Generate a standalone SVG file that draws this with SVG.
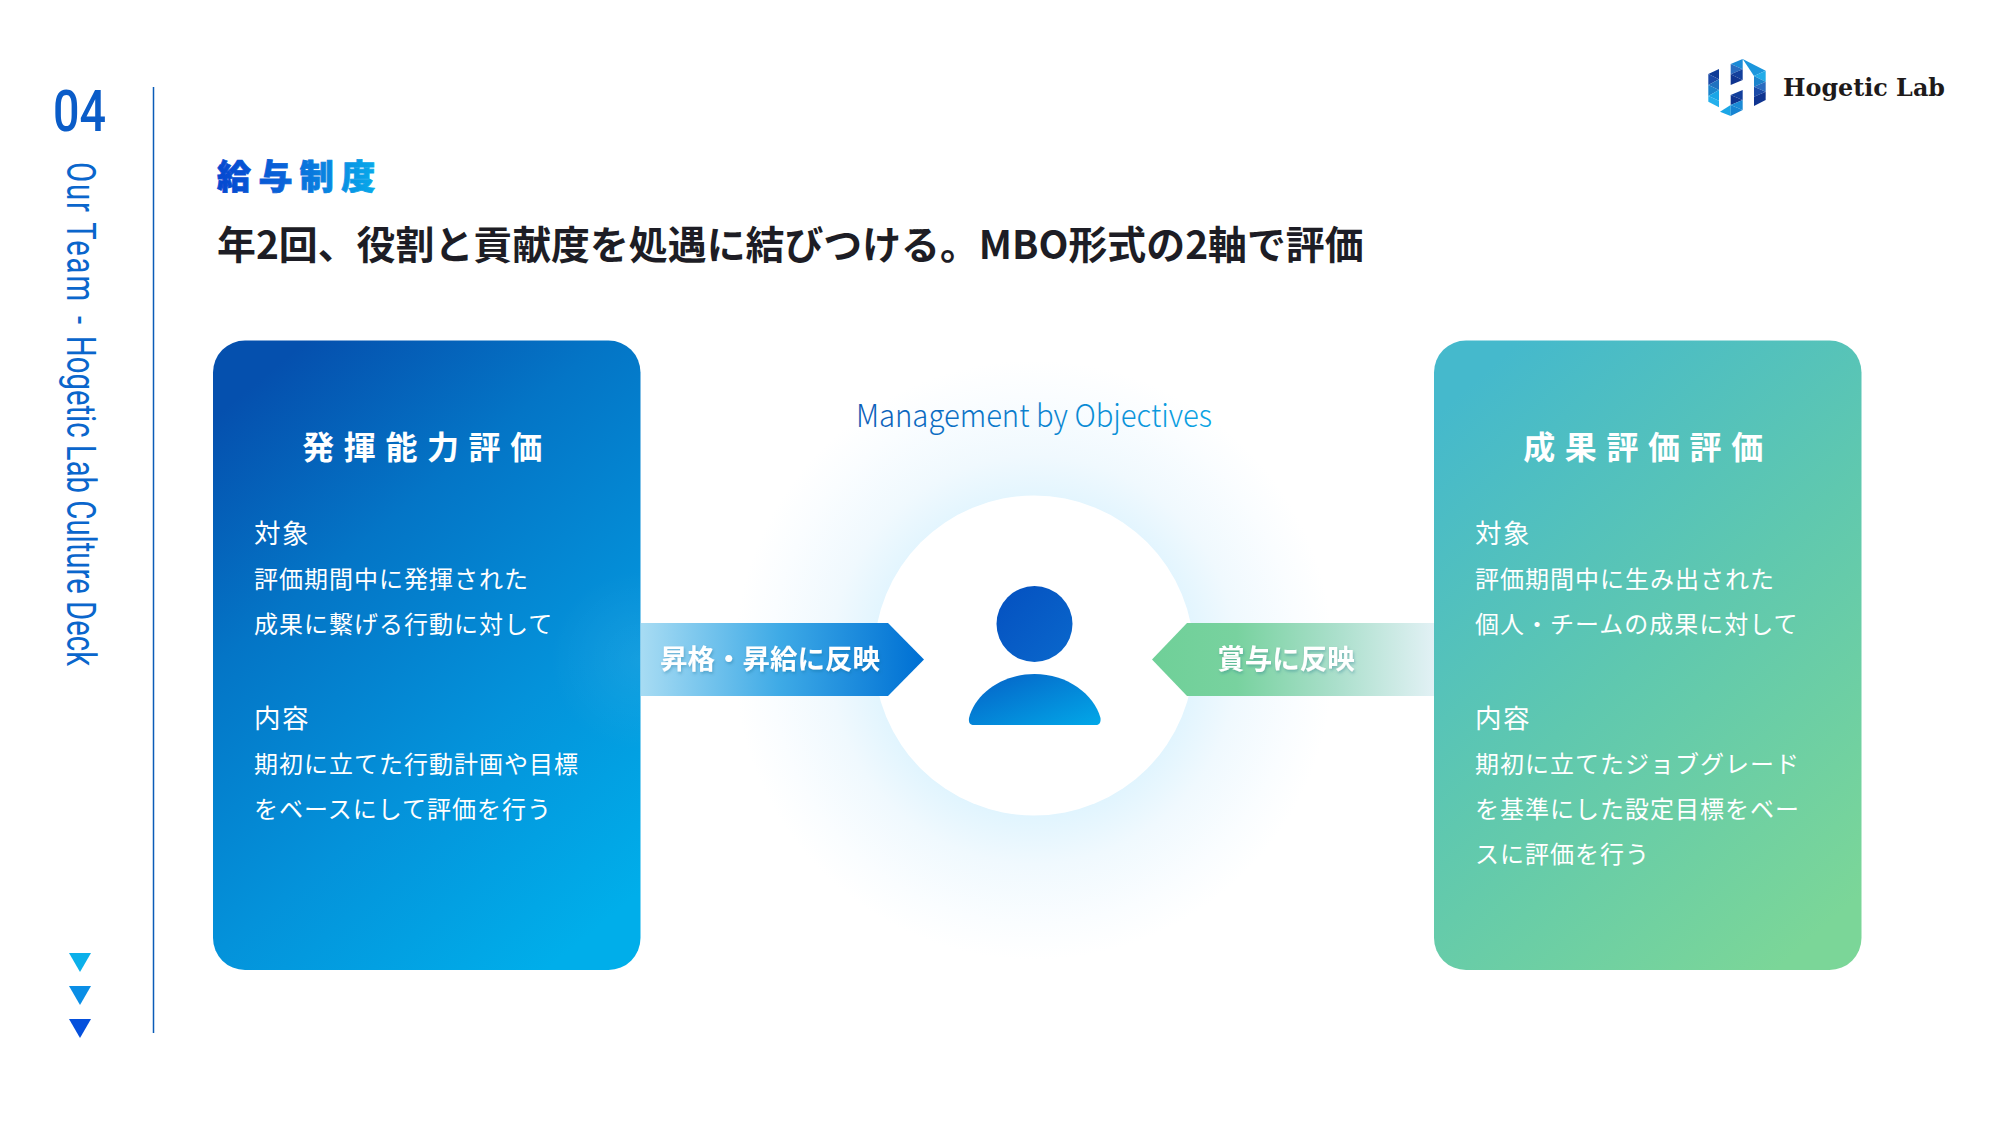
<svg xmlns="http://www.w3.org/2000/svg" width="2000" height="1125" viewBox="0 0 2000 1125">
<defs>
<linearGradient id="cardL" x1=".22" y1="0" x2=".78" y2="1"><stop offset="0" stop-color="#0550ae"/><stop offset=".3" stop-color="#0475c6"/><stop offset=".65" stop-color="#0492da"/><stop offset="1" stop-color="#00aeea"/></linearGradient>
<linearGradient id="cardR" x1=".2" y1="0" x2=".8" y2="1"><stop offset="0" stop-color="#45b9cc"/><stop offset=".5" stop-color="#5fc8af"/><stop offset="1" stop-color="#7bd698"/></linearGradient>
<linearGradient id="arrL" gradientUnits="userSpaceOnUse" x1="640" y1="0" x2="920" y2="0"><stop offset="0" stop-color="#a8dcf3"/><stop offset=".5" stop-color="#3eaae6"/><stop offset="1" stop-color="#0071d4"/></linearGradient>
<linearGradient id="arrR" gradientUnits="userSpaceOnUse" x1="1152" y1="0" x2="1434" y2="0"><stop offset="0" stop-color="#6fd098"/><stop offset=".3" stop-color="#78d29f"/><stop offset=".65" stop-color="#aadfcb"/><stop offset="1" stop-color="#e2f1f5"/></linearGradient>
<linearGradient id="head" x1="0" y1="0" x2="1" y2="1"><stop offset="0" stop-color="#0450c0"/><stop offset="1" stop-color="#0a68cc"/></linearGradient>
<linearGradient id="body" x1="0" y1="0" x2="1" y2="1"><stop offset="0" stop-color="#0560c6"/><stop offset="1" stop-color="#02a8e8"/></linearGradient>
<linearGradient id="ttl" gradientUnits="userSpaceOnUse" x1="217" y1="0" x2="376" y2="0"><stop offset="0" stop-color="#0548d0"/><stop offset=".4" stop-color="#0a62d8"/><stop offset="1" stop-color="#08aaea"/></linearGradient>
<linearGradient id="mbo" gradientUnits="userSpaceOnUse" x1="856" y1="0" x2="1212" y2="0"><stop offset="0" stop-color="#0a5cb8"/><stop offset="1" stop-color="#0aa4e4"/></linearGradient>
<radialGradient id="glow"><stop offset="0" stop-color="#dff4fe"/><stop offset=".5" stop-color="#dff4fe"/><stop offset=".68" stop-color="#f0f9fe"/><stop offset=".88" stop-color="#fafdff"/><stop offset="1" stop-color="#fff"/></radialGradient>
<radialGradient id="bleed"><stop offset="0" stop-color="#fff" stop-opacity=".07"/><stop offset="1" stop-color="#fff" stop-opacity="0"/></radialGradient>
<clipPath id="clipL"><rect x="213" y="340.500" width="427.500" height="629.500" rx="32"/></clipPath>
<filter id="sh" x="-10%" y="-20%" width="120%" height="150%"><feDropShadow dx="1" dy="2" stdDeviation="1.5" flood-color="#0a5a80" flood-opacity=".3"/></filter>
</defs>
<style>
text{font-family:"Noto Sans CJK JP","Noto Sans",sans-serif}
.b{font-size:24px;fill:#fff;letter-spacing:1px;font-weight:400}
.c{font-size:26.500px;fill:#fff;letter-spacing:1.500px;font-weight:400}
.h{font-size:32px;fill:#fff;font-weight:700;letter-spacing:9.600px;text-anchor:middle}
.a{font-size:27.500px;fill:#fff;font-weight:700;text-anchor:middle;filter:url(#sh)}
</style>
<rect width="2000" height="1125" fill="#fff"/>
<g id="sidebar">
<text x="53" y="131" font-size="57" font-weight="500" fill="#0a5cc8" textLength="53" lengthAdjust="spacingAndGlyphs" style="font-family:'Roboto',sans-serif">04</text>
<text transform="translate(67 162) rotate(90)" font-size="40" font-weight="400" fill="#0a66cc" textLength="504" lengthAdjust="spacingAndGlyphs" style="font-family:'Roboto',sans-serif"><tspan letter-spacing="2.500">Our Team</tspan><tspan dx="8"> - </tspan><tspan dx="6">Hogetic Lab Culture Deck</tspan></text>
<line x1="153.500" y1="87" x2="153.500" y2="1033" stroke="#0a5cb8" stroke-width="1.500"/>
<polygon points="69,953 91,953 80,972" fill="#0bb0ea"/>
<polygon points="69,986 91,986 80,1005" fill="#0a8ee6"/>
<polygon points="69,1019 91,1019 80,1038" fill="#0550dc"/>
</g>
<g id="logo">
<g transform="translate(1700 50) scale(.3333)">
<polygon points="25,72 57,57 57,88" fill="#0f3c98"/>
<polygon points="25,72 57,88 25,105" fill="#1a4aa8"/>
<polygon points="25,105 57,88 57,120" fill="#1f72c0"/>
<polygon points="25,105 57,120 25,138" fill="#1b84cc"/>
<polygon points="25,138 57,120 57,152" fill="#1ba6e6"/>
<polygon points="25,138 57,152 57,172 25,155" fill="#25b0ec"/>
<polygon points="92,42 128,27 128,58" fill="#1b8ad6"/>
<polygon points="92,42 128,58 92,73" fill="#2a6cc0"/>
<polygon points="92,73 128,58 128,90" fill="#123f9c"/>
<polygon points="92,73 128,90 92,105" fill="#0f3490"/>
<polygon points="128,27 197,62 162,78" fill="#1b96dc"/>
<polygon points="162,78 197,62 197,95" fill="#22ace8"/>
<polygon points="162,78 197,95 162,110" fill="#1b84cc"/>
<polygon points="162,110 197,95 197,125" fill="#2a6cc0"/>
<polygon points="162,110 197,125 162,140" fill="#1a4aa8"/>
<polygon points="162,140 197,125 197,150 162,168" fill="#0f3490"/>
<polygon points="92,135 128,120 128,150" fill="#123f9c"/>
<polygon points="92,135 128,150 92,165" fill="#0f3490"/>
<polygon points="92,165 128,150 128,180" fill="#1b8ad6"/>
<polygon points="60,185 92,165 92,198" fill="#1ba6e6"/>
<polygon points="92,165 128,180 92,198" fill="#1784d2"/>
</g>
<text x="1783" y="96" font-size="25" font-weight="700" fill="#1e1a1a" textLength="162" lengthAdjust="spacingAndGlyphs" style="font-family:'DejaVu Serif',serif">Hogetic Lab</text>
</g>
<g id="title">
<text x="217" y="189" font-size="34" font-weight="900" letter-spacing="7.400" fill="url(#ttl)" stroke="url(#ttl)" stroke-width=".8">給与制度</text>
<text x="217" y="259" font-size="38.900" font-weight="700" fill="#1d1d25">年2回、役割と貢献度を処遇に結びつける。MBO形式の2軸で評価</text>
</g>
<g id="center">
<circle cx="1034" cy="660" r="300" fill="url(#glow)"/>
<circle cx="1034" cy="655.500" r="160" fill="#fff"/>
<text x="856" y="427" font-size="31" font-weight="300" fill="url(#mbo)" textLength="356" lengthAdjust="spacingAndGlyphs">Management by Objectives</text>
<circle cx="1034.500" cy="624" r="38" fill="url(#head)"/>
<path d="M969 718C975 694 1002 674 1034.500 674C1067 674 1094 694 1100.500 718C1101 723 1099 725 1096 725H974C970 725 968.500 723 969 718Z" fill="url(#body)"/>
</g>
<g id="card-left">
<rect x="213" y="340.500" width="427.500" height="629.500" rx="32" fill="url(#cardL)"/>
<circle cx="640" cy="660" r="90" fill="url(#bleed)" clip-path="url(#clipL)"/>
<text class="h" x="427" y="459">発揮能力評価</text>
<text class="c" x="254" y="543">対象</text>
<text class="b" x="254" y="588">評価期間中に発揮された</text>
<text class="b" x="254" y="633">成果に繋げる行動に対して</text>
<text class="c" x="254" y="728">内容</text>
<text class="b" x="254" y="773">期初に立てた行動計画や目標</text>
<text class="b" x="254" y="818">をベースにして評価を行う</text>
</g>
<g id="card-right">
<rect x="1434" y="340.500" width="427.500" height="629.500" rx="32" fill="url(#cardR)"/>
<text class="h" x="1648" y="459">成果評価評価</text>
<text class="c" x="1475" y="543">対象</text>
<text class="b" x="1475" y="588">評価期間中に生み出された</text>
<text class="b" x="1475" y="633">個人・チームの成果に対して</text>
<text class="c" x="1475" y="728">内容</text>
<text class="b" x="1475" y="773">期初に立てたジョブグレード</text>
<text class="b" x="1475" y="818">を基準にした設定目標をベー</text>
<text class="b" x="1475" y="863">スに評価を行う</text>
</g>
<g id="connectors">
<polygon points="641,623 888,623 924,659.500 888,696 641,696" fill="url(#arrL)"/>
<text class="a" x="770" y="669">昇格・昇給に反映</text>
<polygon points="1434,623 1187,623 1152,659.500 1187,696 1434,696" fill="url(#arrR)"/>
<text class="a" x="1286" y="669">賞与に反映</text>
</g>
</svg>
